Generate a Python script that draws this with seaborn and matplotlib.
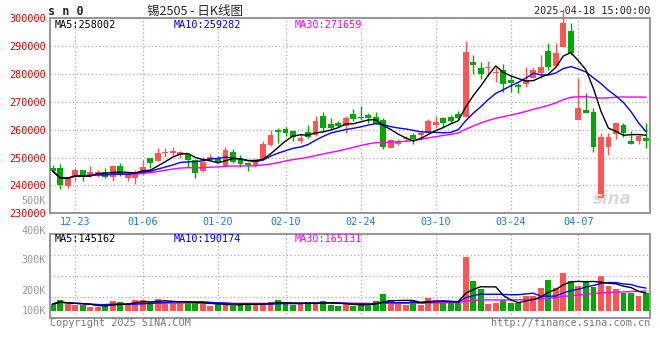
import matplotlib
matplotlib.use("Agg")
import matplotlib.pyplot as plt
import numpy as np
import pandas as pd
import seaborn as sns

# daily candles, 2024-12-18 .. 2025-04-18
opens = [246150, 246150, 239800, 243140, 245430, 243390, 244100, 244930, 243140, 246980,
         242560, 242560, 244100, 249960, 248880, 251640, 251540, 250920, 251280, 249130,
         245290, 249130, 249740, 246980, 251900, 249130, 248160, 246980, 249380, 254520,
         259790, 260150, 259540, 256060, 259080, 258110, 264930, 261950, 262310, 261340,
         265640, 264680, 265290, 264460, 263490, 253330, 254870, 256560, 258110, 258210,
         258650, 261700, 264100, 264390, 265640, 264570, 284420, 282160, 281980, 280360,
         281620, 277850, 275950, 276310, 278460, 280260, 288260, 282950, 289800, 295440,
         263490, 267080, 266470, 235600, 253690, 258470, 261700, 255950, 255950, 257140]
highs = [247340, 247700, 242560, 246150, 245540, 246980, 245540, 246370, 247440, 247950,
         244930, 245540, 249130, 249960, 253330, 253330, 253690, 252470, 251750, 249380,
         250100, 251180, 250570, 253690, 252970, 250920, 248520, 249500, 255950, 259900,
         260510, 261090, 259900, 258350, 261700, 264930, 266470, 264320, 263130, 264750,
         267330, 268520, 265900, 266470, 264100, 256780, 256850, 257750, 259000, 259290,
         263740, 265100, 264680, 265290, 266830, 291960, 287000, 284310, 284670, 282520,
         283590, 279470, 276670, 282630, 282520, 287000, 291130, 291130, 303340, 298420,
         278460, 273290, 267690, 258720, 258720, 262590, 262590, 259650, 257930, 262310]
lows = [244360, 238720, 239250, 241700, 241700, 243140, 243140, 242670, 241700, 243490,
        241700, 240510, 243750, 246150, 248880, 250100, 250100, 249850, 246800, 242780,
        244820, 248770, 248050, 246510, 248160, 246730, 245290, 246510, 249130, 254160,
        255340, 257750, 255950, 255340, 256920, 257750, 259650, 260260, 261090, 258930,
        263240, 263490, 262520, 261880, 253080, 253330, 254520, 256130, 254700, 256310,
        258650, 260520, 260870, 262310, 263850, 264570, 280010, 278210, 279290, 277130,
        273650, 273650, 273290, 275230, 278460, 278460, 281620, 282950, 289800, 287000,
        263490, 266180, 251830, 235600, 250930, 256670, 257390, 255050, 254770, 253620]
closes = [245180, 240150, 242560, 245540, 243390, 244930, 244930, 243140, 246980, 244000,
          244370, 244100, 246730, 248160, 251540, 252110, 252470, 252110, 249130, 244370,
          248300, 250320, 248520, 252720, 248520, 247690, 247340, 248520, 254870, 258110,
          259290, 258930, 257490, 257140, 257490, 263240, 260730, 260730, 261440, 264100,
          263740, 264100, 264100, 262050, 253910, 256310, 255770, 257200, 256560, 258570,
          263240, 262880, 262590, 263240, 264100, 288010, 283240, 280010, 282410, 280830,
          276410, 276950, 275230, 277960, 281550, 282630, 282340, 287650, 298210, 287650,
          267900, 266180, 253910, 257500, 257280, 262310, 259000, 255050, 257750, 256060]
volumes = [56000, 86800, 53400, 50100, 47600, 30900, 30900, 47600, 81000, 70100,
           47600, 89300, 89300, 70100, 97700, 66800, 66800, 70100, 70100, 70100,
           53400, 39200, 53400, 50100, 41800, 61800, 61800, 47600, 61800, 72600,
           89300, 56000, 47600, 53400, 72600, 72600, 81000, 47600, 41800, 53400,
           39200, 61800, 41800, 83500, 139400, 89300, 70100, 47600, 81000, 47600,
           108600, 89300, 61800, 61800, 61800, 450900, 248000, 178700, 56000, 61800,
           89300, 61800, 66800, 125300, 125300, 192100, 256300, 192100, 317300, 250500,
           206200, 245500, 200400, 289700, 206200, 181200, 145300, 145300, 125300, 145300]

tick_idx = [3, 12, 22, 31, 41, 51, 61, 70]
tick_labels = ["12-23", "01-06", "01-20", "02-10", "02-24", "03-10", "03-24", "04-07"]
price_ticks = [230000, 240000, 250000, 260000, 270000, 280000, 290000, 300000]

UP = "#ff5555"
DOWN = "#00a800"
GRID = "#aaaaaa"

sns.set_style("white")
plt.rcParams["font.family"] = ["DejaVu Sans Mono", "DejaVu Sans"]

df = pd.DataFrame({"open": opens, "high": highs, "low": lows, "close": closes, "vol": volumes})
df["x"] = np.arange(len(df))
for n in (5, 10, 30):
    df[f"ma{n}"] = df["close"].rolling(n, min_periods=1).mean()
    df[f"vma{n}"] = df["vol"].rolling(n, min_periods=1).mean()
colors = np.where(df["close"] >= df["open"], UP, DOWN)

W, H = 660, 360
fig = plt.figure(figsize=(W / 100, H / 100), dpi=100)


def box(l, t, r, b):
    return [l / W, 1 - b / H, (r - l) / W, (b - t) / H]


ax1 = fig.add_axes(box(50, 18.3, 650, 213.3))
ax2 = fig.add_axes(box(50, 234.3, 650, 318))
xlim = (-0.36, 79.53)

# price panel
ax1.vlines(df["x"], df["low"], df["high"], colors=colors, lw=1, zorder=3, clip_on=False)
body = (df["close"] - df["open"]).abs().clip(lower=500)
ax1.bar(df["x"], body, bottom=df[["open", "close"]].min(axis=1), width=0.78,
        color=colors, linewidth=0, zorder=3, clip_on=False)
for col, c in (("ma30", "#ff00ff"), ("ma10", "#0000ff"), ("ma5", "black")):
    sns.lineplot(data=df, x="x", y=col, color=c, lw=1, ax=ax1, legend=False, zorder=4)
ax1.set_xlim(*xlim)
ax1.set_ylim(230000, 300000)
ax1.set_yticks(price_ticks)
ax1.set_yticklabels([str(t) for t in price_ticks])
ax1.set_xticks(tick_idx)
ax1.set_xticklabels(tick_labels)
ax1.tick_params(axis="y", length=0, pad=3, labelcolor="#dd0000", labelsize=7.3)
ax1.tick_params(axis="x", length=0, pad=3, labelcolor="#1a7fd0", labelsize=7.3)
ax1.grid(True, ls=(0, (1, 2)), color=GRID, lw=0.9)
ax1.set_xlabel("")
ax1.set_ylabel("")

# volume panel
ax2.bar(df["x"], df["vol"], width=0.78, color=colors, linewidth=0, zorder=2)
for col, c in (("vma30", "#ff00ff"), ("vma10", "#0000ff"), ("vma5", "black")):
    sns.lineplot(data=df, x="x", y=col, color=c, lw=1, ax=ax2, legend=False, zorder=4)
vlo, vhi = -61000, 638000
ax2.set_xlim(*xlim)
ax2.set_ylim(vlo, vhi)
ax2.set_yticks([vlo + (vhi - vlo) * k / 4 for k in (1, 2, 3)])
ax2.set_yticklabels([])
ax2.set_xticks(tick_idx)
ax2.set_xticklabels([])
ax2.tick_params(length=0)
ax2.grid(True, ls=(0, (1, 2)), color=GRID, lw=0.9)
ax2.set_xlabel("")
ax2.set_ylabel("")

for ax in (ax1, ax2):
    for s in ax.spines.values():
        s.set_color("#999999")
        s.set_linewidth(1.5)

mono = dict(fontsize=7.3, va="center")
fig.text(48 / W, 1 - 11.5 / H, "s n 0", fontsize=8.5, fontweight="bold", va="center")
fig.text(195 / W, 1 - 11 / H, "锡2505 - 日K线图", family=["Noto Sans CJK SC", "DejaVu Sans"],
         fontsize=9, ha="center", va="center")
fig.text(650 / W, 1 - 11 / H, "2025-04-18 15:00:00", ha="right", **mono)

fig.text(55 / W, 1 - 24.5 / H, "MA5:258002", color="black", **mono)
fig.text(174 / W, 1 - 24.5 / H, "MA10:259282", color="#0000ff", **mono)
fig.text(295 / W, 1 - 24.5 / H, "MA30:271659", color="#ff00ff", **mono)
fig.text(55 / W, 1 - 238.5 / H, "MA5:145162", color="black", **mono)
fig.text(174 / W, 1 - 238.5 / H, "MA10:190174", color="#0000ff", **mono)
fig.text(295 / W, 1 - 238.5 / H, "MA30:165131", color="#ff00ff", **mono)

for lab, yp in (("500K", 200.7), ("400K", 231), ("300K", 260), ("200K", 290.7), ("100K", 311)):
    fig.text(46 / W, 1 - yp / H, lab, color="#999999", ha="right", **mono)

fig.text(612 / W, 1 - 199 / H, "sina", color="#d9d9d9", fontsize=12, style="italic",
         fontweight="bold", ha="center", va="center", family="DejaVu Sans")

fig.text(50 / W, 1 - 323.5 / H, "Copyright 2025 SINA.COM", color="#777777", **mono)
fig.text(650 / W, 1 - 323.5 / H, "http://finance.sina.com.cn", color="#777777", ha="right", **mono)

fig.savefig("out.png", dpi=100)
